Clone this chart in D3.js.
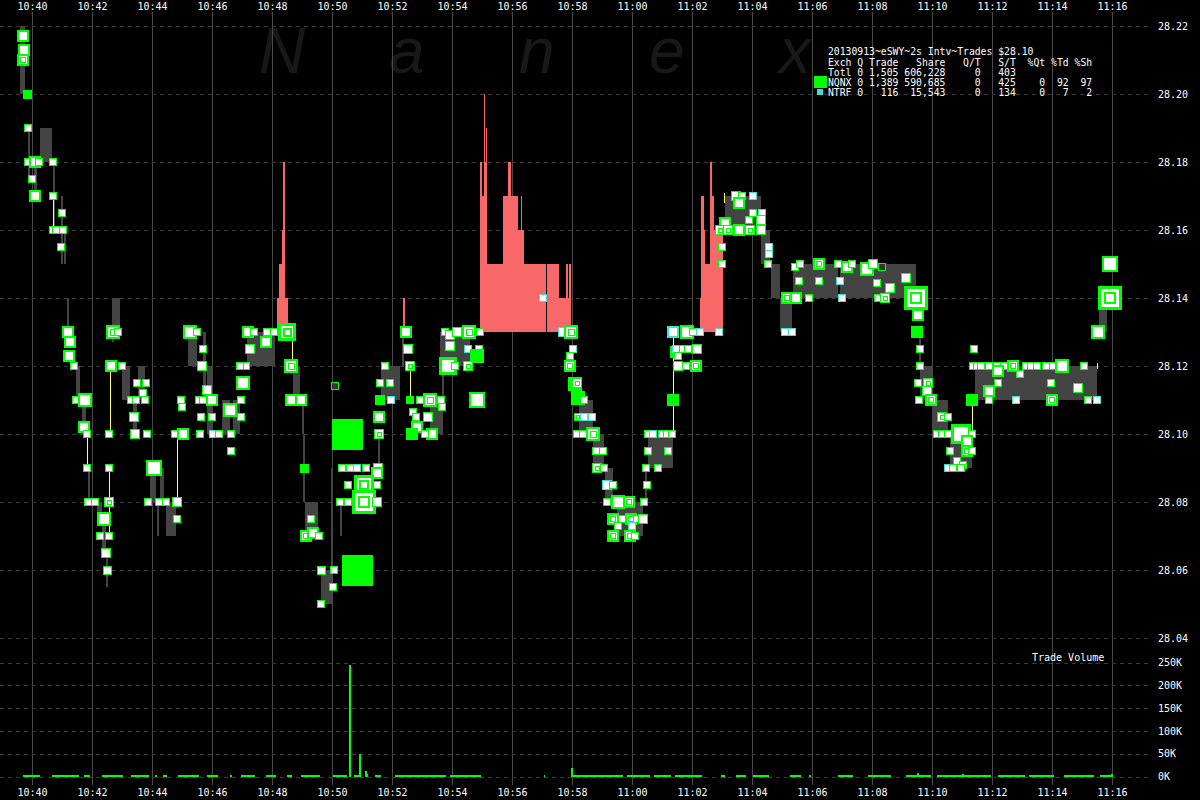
<!DOCTYPE html>
<html><head><meta charset="utf-8">
<script src="https://cdn.jsdelivr.net/npm/d3@7"></script>
<style>
html,body{margin:0;padding:0;background:#000;}
svg{display:block;}
</style></head><body>
<svg id="c" width="1200" height="800"></svg>
<script>
// ---------------- DATA ----------------
// time values are seconds after 10:40:00 (2013-09-13)
const timeTickLabels = ["10:40","10:42","10:44","10:46","10:48","10:50","10:52","10:54","10:56","10:58",
  "11:00","11:02","11:04","11:06","11:08","11:10","11:12","11:14","11:16"];
const priceTicks = [28.04,28.06,28.08,28.10,28.12,28.14,28.16,28.18,28.20,28.22];
const volumeTicks = [0,50000,100000,150000,200000,250000];
const watermarkLetters = ["N","a","n","e","x"];
const legendLines = [
  "20130913~eSWY~2s Intv~Trades $28.10",
  "Exch Q Trade   Share   Q/T   S/T  %Qt %Td %Sh",
  "Totl 0 1,505 606,228     0   403",
  "NQNX 0 1,389 590,685     0   425    0  92  97",
  "NTRF 0   116  15,543     0   134    0   7   2"
];

// quote range bars: [t0, t1, low, high]
const quoteBars = [
[-24,-14,28.20,28.22],[16,40,28.18,28.19],[4,10,28.17,28.18],[88,96,28.11,28.12],[100,108,28.10,28.11],
[112,116,28.08,28.09],[130,140,28.075,28.08],[140,148,28.065,28.075],[162,176,28.13,28.14],[180,196,28.11,28.12],
[202,210,28.10,28.11],[212,226,28.11,28.12],[236,248,28.08,28.09],[256,264,28.08,28.09],[268,288,28.07,28.08],
[312,330,28.12,28.13],[342,348,28.11,28.13],[350,362,28.10,28.12],[380,396,28.10,28.11],[402,416,28.10,28.11],
[430,486,28.12,28.13],[522,536,28.11,28.12],[546,572,28.07,28.08],[578,600,28.05,28.06],[698,736,28.11,28.12],
[796,822,28.10,28.11],[816,876,28.12,28.13],[1094,1122,28.10,28.11],[1122,1144,28.09,28.10],[1146,1162,28.08,28.09],
[1170,1222,28.07,28.08],[1232,1282,28.09,28.10],[1386,1458,28.16,28.17],[1458,1476,28.15,28.16],[1478,1496,28.14,28.15],
[1496,1520,28.13,28.14],[1522,1612,28.14,28.15],[1616,1768,28.14,28.15],[1776,1800,28.11,28.12],[1800,1832,28.10,28.11],
[1836,1880,28.09,28.10],[1886,2130,28.11,28.12],[2134,2150,28.13,28.14]
];
// red spread bars: [t0, t1, low, high]
const spreadBars = [
[490,494,28.13,28.14],[494,506,28.13,28.15],[500,502,28.13,28.16],[502,506,28.13,28.18],[506,512,28.13,28.14],
[742,746,28.13,28.14],
[896,900,28.13,28.18],[900,904,28.13,28.17],[904,908,28.13,28.18],[904,906,28.13,28.20],[908,910,28.13,28.19],
[910,942,28.13,28.15],[942,952,28.13,28.17],[952,958,28.13,28.18],[958,972,28.13,28.17],[972,978,28.13,28.16],
[978,980,28.13,28.17],[980,984,28.13,28.16],[984,1028,28.13,28.15],[1030,1054,28.13,28.15],[1054,1068,28.13,28.14],
[1068,1072,28.13,28.15],[1072,1074,28.13,28.14],[1074,1078,28.13,28.15],
[1336,1338,28.13,28.14],[1338,1344,28.13,28.17],[1344,1346,28.13,28.16],[1346,1356,28.13,28.15],
[1356,1360,28.13,28.18],[1360,1364,28.13,28.17],[1364,1382,28.13,28.16]
];
// thin grey range lines: [t, low, high]
const rangeLines = [
[-6,28.175,28.19],[44,28.16,28.18],[60,28.15,28.17],[66,28.15,28.16],[72,28.13,28.14],[162,28.127,28.14],
[252,28.07,28.08],[542,28.10,28.11],[544,28.08,28.10],[600,28.061,28.09],[618,28.07,28.08],[694,28.09,28.10],
[742,28.12,28.13],[822,28.11,28.13],[1228,28.08,28.09],[1776,28.12,28.13],[150,28.055,28.065]
];
// yellow lines: [t, low, high]
const yellowLines = [
[42,28.16,28.17],[110,28.09,28.10],[156,28.10,28.12],[154,28.07,28.09],[290,28.08,28.10],[520,28.122,28.1276],
[756,28.11,28.12],[1282,28.10,28.13],[1384,28.168,28.171],[1880,28.1005,28.1085],[2130,28.119,28.121]
];
// trades: [t, price, shares, kind]  Q=NQNX  T=NTRF  D=NQNX multiple  G=solid  H=hollow
const trades = [
[-18,28.217,500,"Q"],[-16,28.213,500,"Q"],[-18,28.21,400,"D"],[-10,28.20,200,"G"],
[-8,28.19,100,"Q"],[-8,28.18,100,"Q"],[6,28.18,500,"Q"],[14,28.18,100,"Q"],[42,28.18,100,"Q"],
[0,28.175,100,"Q"],[6,28.17,500,"Q"],[42,28.17,100,"Q"],[60,28.165,100,"Q"],
[42,28.16,100,"Q"],[48,28.16,100,"Q"],[62,28.16,100,"Q"],[58,28.155,100,"Q"],
[72,28.13,500,"Q"],[76,28.127,500,"Q"],[74,28.123,500,"Q"],[84,28.12,100,"Q"],
[88,28.11,100,"Q"],[106,28.11,1000,"Q"],[104,28.102,500,"Q"],[110,28.10,100,"Q"],
[110,28.09,100,"Q"],[112,28.08,100,"Q"],[126,28.08,100,"Q"],[144,28.075,1000,"Q"],
[136,28.07,100,"Q"],[154,28.07,100,"Q"],[148,28.065,300,"Q"],[150,28.06,200,"Q"],
[162,28.13,1000,"D"],[172,28.13,100,"Q"],[158,28.12,500,"Q"],[180,28.12,100,"Q"],
[154,28.10,100,"Q"],[154,28.09,100,"Q"],[154,28.08,300,"D"],
[198,28.11,100,"Q"],[208,28.11,100,"Q"],[226,28.11,100,"Q"],[210,28.115,100,"Q"],[228,28.115,100,"Q"],[222,28.112,100,"Q"],
[204,28.105,300,"Q"],[206,28.10,300,"Q"],[230,28.10,100,"Q"],[244,28.09,2000,"Q"],
[232,28.08,100,"Q"],[254,28.08,100,"Q"],[268,28.08,100,"Q"],[290,28.08,300,"Q"],[290,28.075,100,"Q"],
[286,28.10,100,"Q"],[302,28.10,500,"Q"],[298,28.11,100,"Q"],[300,28.108,100,"Q"],
[316,28.13,1000,"Q"],[330,28.13,100,"Q"],[342,28.125,100,"Q"],[340,28.12,300,"Q"],
[350,28.113,300,"Q"],[360,28.11,500,"Q"],[334,28.11,100,"Q"],[342,28.11,100,"Q"],
[338,28.105,100,"Q"],[360,28.105,100,"Q"],[336,28.10,100,"Q"],[362,28.10,100,"T"],[374,28.10,100,"Q"],
[396,28.107,1000,"Q"],[418,28.11,100,"Q"],[418,28.105,100,"Q"],[398,28.10,100,"Q"],[398,28.095,100,"Q"],
[422,28.115,1000,"Q"],[428,28.12,100,"Q"],[416,28.12,100,"Q"],
[432,28.13,500,"Q"],[444,28.13,100,"Q"],[436,28.125,300,"Q"],[468,28.127,500,"Q"],[470,28.13,100,"Q"],[484,28.13,100,"Q"],
[510,28.13,3000,"D"],[518,28.12,1000,"D"],[518,28.11,500,"Q"],[538,28.11,500,"Q"],[544,28.09,200,"G"],
[606,28.114,100,"H"],
[558,28.075,100,"Q"],[548,28.07,500,"D"],[562,28.071,500,"Q"],[574,28.07,100,"Q"],
[578,28.06,200,"Q"],[604,28.06,100,"Q"],[602,28.055,100,"Q"],[578,28.05,100,"Q"],
[620,28.09,100,"Q"],[636,28.09,100,"Q"],[650,28.09,100,"T"],[668,28.09,100,"Q"],[692,28.09,300,"Q"],[690,28.0885,500,"Q"],
[632,28.085,100,"Q"],[632,28.08,100,"Q"],[616,28.08,100,"Q"],
[664,28.085,5000,"D"],[664,28.08,8000,"D"],[690,28.085,100,"Q"],[690,28.08,300,"Q"],
[694,28.105,500,"Q"],[694,28.10,300,"D"],[706,28.12,100,"Q"],[696,28.115,100,"Q"],[716,28.115,100,"Q"],[696,28.11,300,"G"],[718,28.11,100,"T"],
[630,28.10,245000,"G"],[650,28.06,50000,"G"],
[748,28.13,500,"Q"],[752,28.125,300,"Q"],[756,28.12,300,"D"],[756,28.11,100,"G"],
[762,28.1065,100,"Q"],[768,28.105,100,"Q"],[776,28.11,100,"Q"],[796,28.11,1000,"D"],[818,28.11,100,"Q"],[820,28.108,100,"Q"],
[792,28.105,300,"Q"],[770,28.102,500,"Q"],[760,28.10,500,"G"],[800,28.10,500,"Q"],[786,28.10,100,"Q"],
[826,28.13,100,"Q"],[836,28.129,300,"Q"],[850,28.13,300,"Q"],[874,28.13,1000,"D"],[896,28.13,100,"Q"],
[836,28.126,300,"Q"],[872,28.125,100,"T"],[894,28.125,100,"Q"],[890,28.123,1000,"G"],
[832,28.12,3000,"Q"],[846,28.12,100,"Q"],[872,28.12,300,"D"],[890,28.11,2000,"Q"],
[1022,28.14,100,"T"],
[1062,28.13,300,"T"],[1078,28.13,1000,"D"],[1082,28.125,100,"T"],[1076,28.123,100,"Q"],[1076,28.12,500,"D"],
[1086,28.1147,1000,"G"],[1092,28.1106,1000,"G"],[1090,28.115,300,"D"],
[1104,28.11,100,"Q"],[1092,28.105,100,"D"],[1104,28.105,100,"T"],[1120,28.105,100,"T"],
[1090,28.10,100,"Q"],[1102,28.10,100,"Q"],[1122,28.10,1000,"D"],[1128,28.095,100,"Q"],[1142,28.095,100,"Q"],
[1130,28.09,300,"D"],[1144,28.09,100,"Q"],[1150,28.085,300,"T"],[1162,28.085,100,"Q"],
[1150,28.08,100,"Q"],[1172,28.08,1000,"Q"],[1194,28.08,500,"D"],[1162,28.075,500,"D"],[1180,28.075,100,"Q"],
[1198,28.075,500,"D"],[1210,28.075,100,"Q"],[1222,28.075,300,"Q"],
[1172,28.073,100,"Q"],[1200,28.073,100,"T"],[1162,28.07,500,"D"],[1196,28.07,500,"D"],[1206,28.07,100,"Q"],
[1224,28.08,100,"Q"],[1230,28.085,100,"Q"],[1228,28.09,100,"Q"],[1252,28.09,100,"Q"],[1232,28.095,100,"Q"],[1272,28.095,100,"Q"],
[1232,28.10,100,"Q"],[1242,28.10,100,"T"],[1260,28.10,100,"Q"],[1270,28.10,100,"Q"],[1280,28.10,100,"Q"],
[1282,28.11,500,"G"],[1288,28.124,500,"G"],
[1282,28.13,500,"T"],[1310,28.13,1000,"Q"],[1322,28.13,100,"Q"],[1336,28.13,100,"T"],[1374,28.13,100,"T"],
[1288,28.125,100,"T"],[1302,28.125,100,"Q"],[1312,28.125,100,"Q"],[1330,28.125,300,"Q"],
[1292,28.123,100,"Q"],[1292,28.12,300,"Q"],[1308,28.12,100,"Q"],[1328,28.12,500,"D"],
[1408,28.17,300,"Q"],[1420,28.17,100,"Q"],[1442,28.17,100,"T"],[1414,28.168,500,"Q"],[1386,28.162,500,"Q"],
[1376,28.16,300,"D"],[1392,28.16,300,"D"],[1414,28.16,500,"Q"],[1436,28.16,300,"D"],[1458,28.16,300,"Q"],
[1442,28.165,100,"Q"],[1460,28.165,100,"T"],[1434,28.163,100,"Q"],[1458,28.163,300,"Q"],
[1380,28.155,100,"Q"],[1380,28.15,100,"Q"],[1474,28.155,100,"T"],[1474,28.153,100,"T"],[1472,28.15,100,"Q"],
[1510,28.14,500,"D"],[1528,28.14,500,"Q"],[1554,28.14,100,"Q"],[1534,28.145,100,"Q"],[1574,28.145,100,"Q"],
[1506,28.13,100,"T"],[1520,28.13,100,"T"],
[1526,28.149,100,"Q"],[1536,28.15,100,"Q"],[1574,28.15,500,"D"],[1612,28.15,100,"Q"],[1630,28.149,500,"Q"],[1640,28.15,100,"Q"],
[1670,28.1485,1000,"Q"],[1682,28.15,300,"Q"],[1700,28.149,100,"H"],[1616,28.145,100,"T"],[1620,28.14,100,"T"],
[1692,28.14,100,"Q"],[1706,28.14,300,"D"],[1690,28.1445,100,"Q"],[1716,28.143,300,"Q"],[1748,28.146,300,"Q"],
[1768,28.14,8000,"D"],[1772,28.135,500,"Q"],[1770,28.13,500,"G"],[1776,28.125,100,"Q"],[1776,28.12,100,"Q"],
[1792,28.115,300,"D"],[1772,28.115,100,"Q"],[1790,28.1125,300,"Q"],[1774,28.11,100,"Q"],[1798,28.11,500,"D"],
[1820,28.105,300,"D"],[1832,28.105,100,"Q"],[1810,28.10,100,"Q"],[1820,28.10,100,"Q"],[1832,28.10,100,"Q"],
[1858,28.10,5000,"Q"],[1880,28.10,100,"Q"],[1870,28.098,500,"Q"],[1870,28.095,500,"D"],[1836,28.095,100,"Q"],[1880,28.095,100,"Q"],
[1850,28.092,100,"Q"],[1862,28.091,100,"Q"],[1832,28.09,100,"T"],[1842,28.09,100,"Q"],[1858,28.09,100,"Q"],
[1880,28.11,500,"G"],[1884,28.125,100,"Q"],
[1882,28.12,100,"Q"],[1890,28.12,100,"Q"],[1898,28.12,100,"Q"],[1914,28.12,100,"Q"],[1930,28.12,100,"Q"],[1944,28.12,100,"Q"],
[1962,28.12,500,"D"],[1988,28.12,100,"Q"],[1998,28.12,100,"Q"],[2010,28.12,100,"Q"],[2028,28.12,100,"Q"],[2042,28.12,100,"Q"],
[2060,28.12,1000,"Q"],[2104,28.12,100,"Q"],
[1932,28.1185,500,"Q"],[1976,28.1175,100,"Q"],[1932,28.115,100,"Q"],[1914,28.1125,500,"Q"],[1914,28.11,100,"Q"],[1968,28.11,100,"T"],
[2038,28.115,100,"Q"],[2040,28.11,500,"D"],[2092,28.1135,300,"Q"],[2112,28.11,100,"Q"],[2130,28.11,100,"T"],
[2156,28.15,2000,"Q"],[2156,28.14,8000,"D"],[2132,28.13,1000,"Q"]
];
// volume spikes: [t, shares]
const volumeSpikes = [
[634,245000],[654,50000],[666,12000],[668,6000],[1078,19000],[246,4000],[516,3500],[1770,8000],
[1860,6000],[2158,6000],[1226,4000],[1290,4000],[1516,4000],[878,4000],[894,4000],[836,3500]
];
// low-volume runs: [t0, t1, shares]
const volumeRuns = [
[-18,16,3500],[40,94,3500],[104,116,3500],[140,182,3500],[198,234,3500],[262,270,3500],[292,334,3500],
[350,372,3500],[396,400,3500],[418,446,3500],[468,488,3500],[510,520,3500],[538,576,3500],[602,630,3500],
[644,656,3500],[686,698,3500],[726,828,3500],[836,898,3500],[1024,1026,3500],[1078,1182,3500],[1190,1236,3500],
[1244,1278,3500],[1286,1340,3500],[1378,1386,3500],[1408,1428,3500],[1442,1474,3500],[1516,1538,3500],
[1554,1558,3500],[1612,1642,3500],[1672,1718,3500],[1748,1798,3500],[1810,1918,3500],[1932,1986,3500],
[1994,2044,3500],[2064,2124,3500],[2136,2158,3500]
];

// ---------------- DRAW ----------------
const W = 1200, H = 800;
const GREEN = "#00ff00", CYAN = "#40e0d0", GRAY = "#444444", RED = "#f86868", YEL = "#ffff70";
const FONT = "'DejaVu Sans Mono', monospace";
const svg = d3.select("#c");
svg.append("rect").attr("width", W).attr("height", H).attr("fill", "#000");

const parseT = d3.timeParse("%Y-%m-%d %H:%M");
const base = parseT("2013-09-13 10:40");
const toDate = s => new Date(base.getTime() + s * 1000);
const tickDates = timeTickLabels.map(l => parseT("2013-09-13 " + l));

const x = d3.scaleTime().domain([toDate(0), toDate(2160)]).range([32, 1112]);
const y = d3.scaleLinear().domain([28.04, 28.22]).range([638, 26]);
const yv = d3.scaleLinear().domain([0, 250000]).range([776.5, 662.5]);
const size = d3.scaleThreshold()
  .domain([150, 250, 400, 750, 1500, 2500, 4000, 6500, 20000])
  .range([8, 9, 10, 12, 14, 16, 18, 20, 24, 31]);
const X = t => Math.round(x(toDate(t)));

// watermark
svg.append("g").selectAll("text").data(watermarkLetters).join("text")
  .attr("x", (d, i) => 259 + i * 130).attr("y", 73)
  .attr("font-family", "'Liberation Sans', Arial, sans-serif")
  .attr("font-style", "italic").attr("font-size", 64)
  .attr("fill", "#181818").text(d => d);

// grid
const grid = svg.append("g").attr("shape-rendering", "crispEdges");
grid.selectAll("line.v").data(tickDates).join("line").attr("class", "v")
  .attr("x1", d => Math.round(x(d)) + 0.5).attr("x2", d => Math.round(x(d)) + 0.5)
  .attr("y1", 12).attr("y2", 785).attr("stroke", "#4a4a4a").attr("stroke-width", 1);
grid.selectAll("line.hp").data(priceTicks).join("line").attr("class", "hp")
  .attr("x1", 0).attr("x2", 1152)
  .attr("y1", d => Math.round(y(d)) + 0.5).attr("y2", d => Math.round(y(d)) + 0.5)
  .attr("stroke", "#3a3a3a").attr("stroke-dasharray", "4,4");
grid.selectAll("line.hv").data(volumeTicks).join("line").attr("class", "hv")
  .attr("x1", 0).attr("x2", 1152)
  .attr("y1", d => Math.round(yv(d)) + 0.5).attr("y2", d => Math.round(yv(d)) + 0.5)
  .attr("stroke", "#3a3a3a").attr("stroke-dasharray", "4,4");

// axes
function styleAxis(g) {
  g.select(".domain").remove();
  g.selectAll("text").attr("fill", "#fff").attr("font-family", FONT).attr("font-size", 10);
}
svg.append("g").attr("transform", "translate(0,9.5)")
  .call(d3.axisTop(x).tickValues(tickDates).tickFormat(d3.timeFormat("%H:%M")).tickSize(0).tickPadding(0))
  .call(styleAxis);
svg.append("g").attr("transform", "translate(0,789)")
  .call(d3.axisBottom(x).tickValues(tickDates).tickFormat(d3.timeFormat("%H:%M")).tickSize(0).tickPadding(0))
  .call(styleAxis);
svg.append("g").attr("transform", "translate(1158,0)")
  .call(d3.axisRight(y).tickValues(priceTicks).tickFormat(d3.format(".2f")).tickSize(0).tickPadding(0))
  .call(styleAxis);
svg.append("g").attr("transform", "translate(1158,0)")
  .call(d3.axisRight(yv).tickValues(volumeTicks).tickFormat(d => (d / 1000) + "K").tickSize(0).tickPadding(0))
  .call(styleAxis);

// marks
const marks = svg.append("g").attr("shape-rendering", "crispEdges");
marks.selectAll("rect.q").data(quoteBars).join("rect").attr("class", "q")
  .attr("x", d => X(d[0])).attr("width", d => Math.max(1, X(d[1]) - X(d[0])))
  .attr("y", d => Math.round(y(d[3]))).attr("height", d => Math.round(y(d[2])) - Math.round(y(d[3])))
  .attr("fill", GRAY);
marks.selectAll("rect.r").data(spreadBars).join("rect").attr("class", "r")
  .attr("x", d => X(d[0])).attr("width", d => Math.max(1, X(d[1]) - X(d[0])))
  .attr("y", d => Math.round(y(d[3]))).attr("height", d => Math.round(y(d[2])) - Math.round(y(d[3])))
  .attr("fill", RED);
marks.selectAll("rect.l").data(rangeLines).join("rect").attr("class", "l")
  .attr("x", d => X(d[0]) - 1).attr("width", 2)
  .attr("y", d => Math.round(y(d[2]))).attr("height", d => Math.round(y(d[1])) - Math.round(y(d[2])))
  .attr("fill", GRAY);
marks.selectAll("rect.y").data(yellowLines).join("rect").attr("class", "y")
  .attr("x", d => X(d[0])).attr("width", 1)
  .attr("y", d => Math.round(y(d[2]))).attr("height", d => Math.max(2, Math.round(y(d[1])) - Math.round(y(d[2]))))
  .attr("fill", YEL);

// trades: outer coloured square with inset white square
const tg = svg.append("g").attr("shape-rendering", "crispEdges");
function sq(cx, cy, s, fill) {
  const x0 = cx - Math.floor(s / 2), y0 = cy - Math.floor(s / 2);
  tg.append("rect").attr("x", x0).attr("y", y0).attr("width", s).attr("height", s).attr("fill", fill);
}
trades.forEach(([t, p, sh, k]) => {
  const s = size(sh), cx = X(t), cy = Math.round(y(p));
  if (k === "G") { sq(cx, cy, s, GREEN); return; }
  const b = s <= 10 ? 1 : (s <= 16 ? 2 : 3);
  sq(cx, cy, s, k === "T" ? CYAN : GREEN);
  sq(cx, cy, s - 2 * b, k === "H" ? "#333" : "#fff");
  if (k === "D") {
    const s2 = Math.max(4, Math.round(s * 0.5));
    const b2 = s >= 18 ? 2 : 1;
    sq(cx, cy, s2, GREEN);
    sq(cx, cy, s2 - 2 * b2, "#fff");
  }
});

// volume
const vg = svg.append("g").attr("shape-rendering", "crispEdges");
vg.selectAll("rect.vr").data(volumeRuns).join("rect").attr("class", "vr")
  .attr("x", d => X(d[0])).attr("width", d => Math.max(1, X(d[1]) - X(d[0])))
  .attr("y", d => yv(d[2])).attr("height", d => yv(0) - yv(d[2])).attr("fill", GREEN);
vg.selectAll("rect.vs").data(volumeSpikes).join("rect").attr("class", "vs")
  .attr("x", d => X(d[0])).attr("width", 2)
  .attr("y", d => yv(d[1])).attr("height", d => yv(0) - yv(d[1])).attr("fill", GREEN);

svg.append("text").attr("x", 1032).attr("y", 661).attr("fill", "#fff")
  .attr("font-family", FONT).attr("font-size", 10).text("Trade Volume");

// legend
const lg = svg.append("g");
lg.selectAll("text").data(legendLines).join("text")
  .attr("x", 828).attr("y", (d, i) => [55, 65.5, 75.5, 85.5, 95.5][i])
  .attr("fill", "#fff").attr("font-family", FONT).attr("font-size", 9.75)
  .style("white-space", "pre").attr("xml:space", "preserve").text(d => d);
lg.append("rect").attr("x", 814).attr("y", 76).attr("width", 13).attr("height", 12).attr("fill", GREEN);
lg.append("rect").attr("x", 817).attr("y", 89).attr("width", 6).attr("height", 6).attr("fill", CYAN);
</script></body></html>
